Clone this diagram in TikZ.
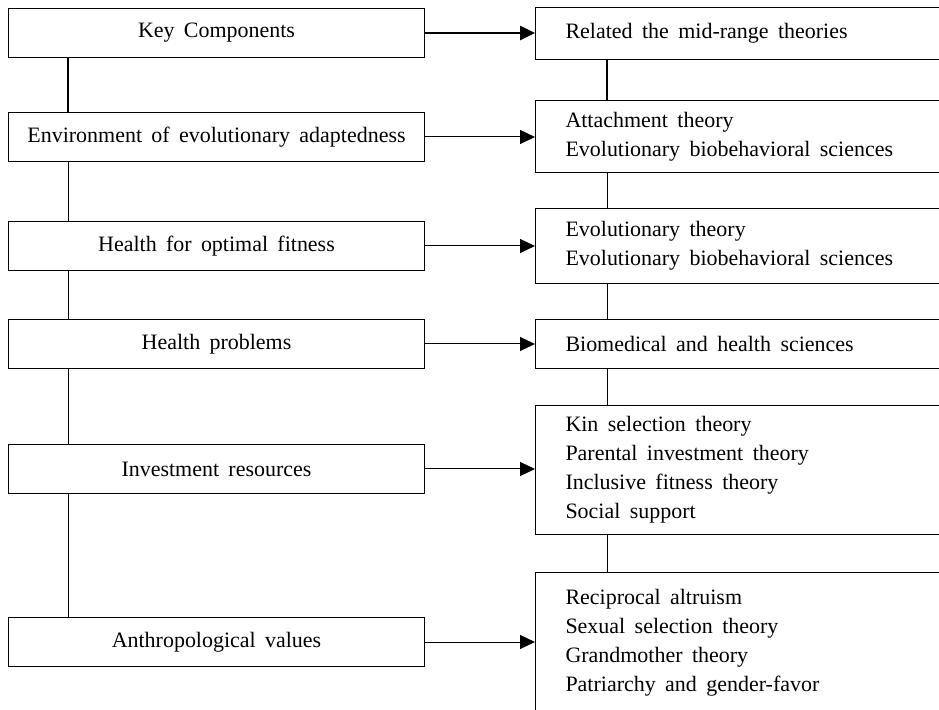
\documentclass[tikz,border=0pt]{standalone}
\usepackage{fontspec}
\setmainfont{Liberation Serif}[WordSpace=1.7]
\usetikzlibrary{positioning}
\usetikzlibrary{arrows.meta}

\begin{document}
\begin{tikzpicture}[x=0.2mm, y=-0.2mm,
    compbox/.style={draw, line width=0.2mm, anchor=north west, minimum width=83.2mm,
        minimum height=9.8mm, inner sep=0pt, font=\fontsize{12.5pt}{16.5pt}\selectfont},
    theorybox/.style={draw, line width=0.2mm, anchor=north west, text width=73mm,
        inner xsep=6mm, inner ysep=0pt, align=flush left, font=\fontsize{12.5pt}{16.5pt}\selectfont,
        execute at begin node={\spaceskip=0.43em\relax}},
    link/.style={line width=0.2mm},
    boldlink/.style={line width=0.55mm},
    arr/.style={-{Triangle[length=3mm,width=2.8mm]}}]
    \useasboundingbox (0,0) rectangle (939,710);
    \clip (0,0) rectangle (939,710);

    % Spines
    \coordinate (lspine) at (68,0);
    \coordinate (rspine) at (607,0);

    % Key components (left)
    \node[compbox] (kc) at (8,8) {Key Components};
    \node[compbox] (eea) at (8,112) {Environment of evolutionary adaptedness};
    \node[compbox] (hof) at (8,221) {Health for optimal fitness};
    \node[compbox] (hp) at (8,319) {Health problems};
    \node[compbox] (ir) at (8,444) {Investment resources};
    \node[compbox] (av) at (8,617) {Anthropological values};

    % Mid-range theories (right)
    \node[theorybox, minimum height=10.4mm] (mrt) at (535,7) {Related the mid-range theories};
    \node[theorybox, minimum height=14.4mm] (att) at (535,100) {Attachment theory\\Evolutionary biobehavioral sciences};
    \node[theorybox, minimum height=15mm] (evo) at (535,208) {Evolutionary theory\\Evolutionary biobehavioral sciences};
    \node[theorybox, minimum height=9.8mm] (bio) at (535,319) {Biomedical and health sciences};
    \node[theorybox, minimum height=25.8mm] (kin) at (535,405) {Kin selection theory\\Parental investment theory\\Inclusive fitness theory\\Social support};
    \node[theorybox, minimum height=28mm] (rec) at (535,572) {Reciprocal altruism\\Sexual selection theory\\Grandmother theory\\Patriarchy and gender-favor};

    % Vertical links
    \draw[boldlink] (kc.south -| lspine) -- (eea.north -| lspine);
    \draw[link] (eea.south -| lspine) -- (hof.north -| lspine);
    \draw[link] (hof.south -| lspine) -- (hp.north -| lspine);
    \draw[link] (hp.south -| lspine) -- (ir.north -| lspine);
    \draw[link] (ir.south -| lspine) -- (av.north -| lspine);

    \draw[boldlink] (mrt.south -| rspine) -- (att.north -| rspine);
    \draw[link] (att.south -| rspine) -- (evo.north -| rspine);
    \draw[link] (evo.south -| rspine) -- (bio.north -| rspine);
    \draw[link] (bio.south -| rspine) -- (kin.north -| rspine);
    \draw[link] (kin.south -| rspine) -- (rec.north -| rspine);

    % Arrows
    \draw[boldlink, arr] (kc.east) -- (kc.east -| mrt.west);
    \draw[link, arr] (eea.east) -- (eea.east -| att.west);
    \draw[link, arr] (hof.east) -- (hof.east -| evo.west);
    \draw[link, arr] (hp.east) -- (hp.east -| bio.west);
    \draw[link, arr] (ir.east) -- (ir.east -| kin.west);
    \draw[link, arr] (av.east) -- (av.east -| rec.west);
\end{tikzpicture}
\end{document}
